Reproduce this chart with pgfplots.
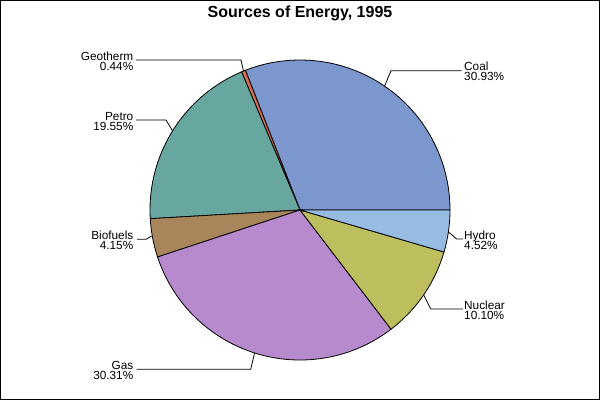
\documentclass[border=0pt]{standalone}
\usepackage{pgfplots}
\pgfplotsset{compat=1.18}
\usepackage{fontspec}
\setmainfont{Liberation Sans}
\definecolor{coal}{RGB}{124,151,205}
\definecolor{geo}{RGB}{214,110,90}
\definecolor{petro}{RGB}{103,167,160}
\definecolor{bio}{RGB}{168,133,90}
\definecolor{gas}{RGB}{182,138,204}
\definecolor{nuc}{RGB}{189,190,94}
\definecolor{hydro}{RGB}{150,189,225}
\tikzset{lbl/.style={font=\fontsize{11.8}{12}\selectfont, inner sep=0pt}}
\begin{document}
\begin{tikzpicture}
\begin{axis}[x=1pt,y=1pt,xmin=0,xmax=600,ymin=0,ymax=400,y dir=reverse,
  hide axis, clip=false,
  every axis plot/.append style={line width=0.8pt}]
% shares in percent (cumulative, counter-clockwise from 0 deg):
% Coal 30.93, Geotherm 0.44, Petro 19.55, Biofuels 4.15, Gas 30.31, Nuclear 10.10, Hydro 4.52
\addplot[draw=black, fill=coal, domain=0:3.6*30.93, samples=90, variable=\t] ({300+150*cos(t)},{210-150*sin(t)}) -- (axis cs:300,210) -- cycle;
\addplot[draw=black, fill=geo, domain=3.6*30.93:3.6*31.37, samples=5, variable=\t] ({300+150*cos(t)},{210-150*sin(t)}) -- (axis cs:300,210) -- cycle;
\addplot[draw=black, fill=petro, domain=3.6*31.37:3.6*50.92, samples=60, variable=\t] ({300+150*cos(t)},{210-150*sin(t)}) -- (axis cs:300,210) -- cycle;
\addplot[draw=black, fill=bio, domain=3.6*50.92:3.6*55.07, samples=15, variable=\t] ({300+150*cos(t)},{210-150*sin(t)}) -- (axis cs:300,210) -- cycle;
\addplot[draw=black, fill=gas, domain=3.6*55.07:3.6*85.38, samples=90, variable=\t] ({300+150*cos(t)},{210-150*sin(t)}) -- (axis cs:300,210) -- cycle;
\addplot[draw=black, fill=nuc, domain=3.6*85.38:3.6*95.48, samples=30, variable=\t] ({300+150*cos(t)},{210-150*sin(t)}) -- (axis cs:300,210) -- cycle;
\addplot[draw=black, fill=hydro, domain=3.6*95.48:3.6*100, samples=15, variable=\t] ({300+150*cos(t)},{210-150*sin(t)}) -- (axis cs:300,210) -- cycle;
% leader lines
\addplot[black] coordinates {(384.6,86.1) (391,70.7) (461.7,70.7)};
\addplot[black] coordinates {(243.5,71.1) (241,60) (136,60)};
\addplot[black] coordinates {(172.6,130.8) (166,120) (136,120)};
\addplot[black] coordinates {(151.7,236) (146,239.3) (137,239.3)};
\addplot[black] coordinates {(448.5,232) (456.7,239) (463,239)};
\addplot[black] coordinates {(423.7,294.9) (430.7,309) (463,309)};
\addplot[black] coordinates {(254.5,353.3) (250.7,369.3) (136.7,369.3)};
% labels
\node[lbl, anchor=base west] at (axis cs:464,70.5) {Coal};
\node[lbl, anchor=base west] at (axis cs:464,80.5) {30.93\%};
\node[lbl, anchor=base west] at (axis cs:464,239) {Hydro};
\node[lbl, anchor=base west] at (axis cs:464,249) {4.52\%};
\node[lbl, anchor=base west] at (axis cs:464,309) {Nuclear};
\node[lbl, anchor=base west] at (axis cs:464,319) {10.10\%};
\node[lbl, anchor=base east] at (axis cs:133.5,60) {Geotherm};
\node[lbl, anchor=base east] at (axis cs:133.5,70) {0.44\%};
\node[lbl, anchor=base east] at (axis cs:133.5,120) {Petro};
\node[lbl, anchor=base east] at (axis cs:133.5,130) {19.55\%};
\node[lbl, anchor=base east] at (axis cs:133.5,239.3) {Biofuels};
\node[lbl, anchor=base east] at (axis cs:133.5,249.3) {4.15\%};
\node[lbl, anchor=base east] at (axis cs:133.5,369.3) {Gas};
\node[lbl, anchor=base east] at (axis cs:133.5,379.3) {30.31\%};
% title
\node[font=\fontsize{16}{18}\selectfont\bfseries, inner sep=0pt, anchor=base] at (axis cs:300,17) {Sources of Energy, 1995};
% frame
\draw[black, line width=1pt] (axis cs:0.5,0.5) rectangle (axis cs:599.5,399.5);
\end{axis}
\end{tikzpicture}
\end{document}
